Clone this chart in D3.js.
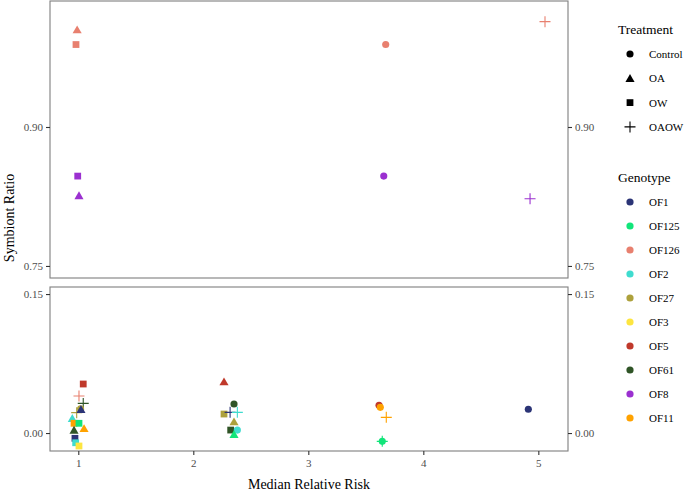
<!DOCTYPE html>
<html><head><meta charset="utf-8">
<script src="https://cdn.jsdelivr.net/npm/d3@7"></script>
<style>body{margin:0;background:#fff}svg{display:block}</style>
</head><body><svg id="c" width="685" height="491"></svg>
<script>
const genotypes = ["OF1","OF125","OF126","OF2","OF27","OF3","OF5","OF61","OF8","OF11"];
const genoColors = ["#2b3476","#12e57a","#e8806f","#3fdccf","#ada13c","#fde540","#c0392b","#2f5426","#9b30d0","#ffa200"];
const treatments = ["Control","OA","OW","OAOW"];
const upperTicks = [0.75, 0.90];
const lowerTicks = [0.00, 0.15];
const xTicks = [1,2,3,4,5];

// points
const ptGenotype = ["OF126","OF126","OF8","OF8","OF126","OF8","OF126","OF8",
  "OF5","OF11","OF11","OF125","OF125","OF1",
  "OF5","OF61","OF27","OF1","OF2","OF27","OF61","OF2","OF125",
  "OF5","OF126","OF61","OF27","OF27","OF1","OF2","OF11","OF125","OF11","OF61","OF1","OF2","OF3"];
const ptTreatment = ["OA","OW","OW","OA","Control","Control","OAOW","OAOW",
  "Control","Control","OAOW","Control","OAOW","Control",
  "OA","Control","OW","OAOW","OAOW","OA","OW","Control","OA",
  "OW","OAOW","OAOW","Control","OAOW","OA","OA","OW","OW","OA","OA","OW","OW","OW"];
const ptRisk = [0.99,0.98,0.995,1.006,3.673,3.656,5.058,4.928,
  3.615,3.626,3.678,3.643,3.643,4.913,
  2.267,2.354,2.267,2.32,2.383,2.354,2.325,2.383,2.354,
  1.043,1.006,1.043,1.02,0.986,1.023,0.948,0.963,1.006,1.05,0.963,0.971,0.977,1.006];
const ptRatio = [1.005,0.989,0.847,0.826,0.989,0.847,1.0137,0.8226,
  0.0299,0.0277,0.0169,-0.009,-0.009,0.0256,
  0.0554,0.0313,0.0205,0.0223,0.0223,0.0122,0.0032,0.0032,-0.0014,
  0.0529,0.0399,0.032,0.026,0.022,0.0256,0.0159,0.0105,0.0105,0.005,0.0032,-0.0057,-0.0105,-0.014];

const FONT = "'Liberation Serif', 'Times New Roman', serif";
const svg = d3.select("#c");
const L = 50, R = 568;
const x = d3.scaleLinear().domain([0.754, 5.258]).range([L, R]);
const yU = d3.scaleLinear().domain([0.737, 1.036]).range([278, 1]);
const yL = d3.scaleLinear().domain([-0.0194, 0.1576]).range([451, 287]);
const color = d3.scaleOrdinal().domain(genotypes).range(genoColors);

const gray = "#4d4d4d";
function styleAxis(a) {
  a.attr("font-family", null);
  a.select(".domain").remove();
  a.selectAll("line").attr("stroke", "#333").attr("stroke-width", 1.1);
  a.selectAll("text").attr("fill", gray).style("font-size", "11px").style("font-family", FONT);
}
function panel(y, ticks, top, bottom, showX) {
  const g = svg.append("g");
  g.append("rect").attr("x", L).attr("y", top).attr("width", R - L).attr("height", bottom - top)
    .attr("fill", "none").attr("stroke", "#7f7f7f").attr("stroke-width", 1.1);
  const la = d3.axisLeft(y).tickValues(ticks).tickFormat(d3.format(".2f")).tickSize(4).tickPadding(3);
  const ra = d3.axisRight(y).tickValues(ticks).tickFormat(d3.format(".2f")).tickSize(4).tickPadding(3);
  styleAxis(g.append("g").attr("transform", `translate(${L},0)`).call(la));
  styleAxis(g.append("g").attr("transform", `translate(${R},0)`).call(ra));
  if (showX) {
    const xa = d3.axisBottom(x).tickValues(xTicks).tickFormat(d3.format("d")).tickSize(4).tickPadding(4);
    styleAxis(g.append("g").attr("transform", `translate(0,${bottom})`).call(xa));
  }
}
panel(yU, upperTicks, 1, 278, false);
panel(yL, lowerTicks, 287, 451, true);

const symSize = {Control: 40, OA: 36, OW: 46};
const symType = {Control: d3.symbolCircle, OA: d3.symbolTriangle, OW: d3.symbolSquare};
function drawShape(g, t, cx, cy, col) {
  if (t === "OAOW") {
    g.append("path").attr("d", `M${cx-5.5},${cy}H${cx+5.5}M${cx},${cy-5.5}V${cy+5.5}`)
      .attr("stroke", col).attr("stroke-width", 1.1).attr("fill", "none");
  } else {
    const dy = t === "OA" ? 1 : 0;
    g.append("path").attr("d", d3.symbol().type(symType[t]).size(symSize[t])())
      .attr("transform", `translate(${cx},${cy + dy})`).attr("fill", col);
  }
}
const pts = svg.append("g");
ptRatio.forEach((v, i) => {
  const y = v > 0.5 ? yU : yL;
  drawShape(pts, ptTreatment[i], x(ptRisk[i]), y(v), color(ptGenotype[i]));
});

function txt(g, xx, yy, s, size, anchor) {
  return g.append("text").attr("x", xx).attr("y", yy).attr("text-anchor", anchor || "start")
    .style("font-family", FONT).style("font-size", size + "px").attr("fill", "#000").text(s);
}
// axis titles
txt(svg, (L + R) / 2, 489, "Median Relative Risk", 14, "middle");
svg.append("text").attr("transform", "translate(14,218) rotate(-90)").attr("text-anchor", "middle")
  .style("font-family", FONT).style("font-size", "14px").attr("fill", "#000").text("Symbiont Ratio");

// legends
const lg = svg.append("g");
txt(lg, 618, 34, "Treatment", 13.5);
treatments.forEach((t, i) => {
  const cy = 54 + i * 24.3;
  drawShape(lg, t, 630, cy, "#000");
  txt(lg, 649, cy + 4, t, 11);
});
txt(lg, 618, 182, "Genotype", 13.5);
genotypes.forEach((gname, i) => {
  const cy = 202 + i * 24;
  lg.append("circle").attr("cx", 630).attr("cy", cy).attr("r", 3.6).attr("fill", color(gname));
  txt(lg, 649, cy + 4, gname, 11);
});
</script></body></html>
